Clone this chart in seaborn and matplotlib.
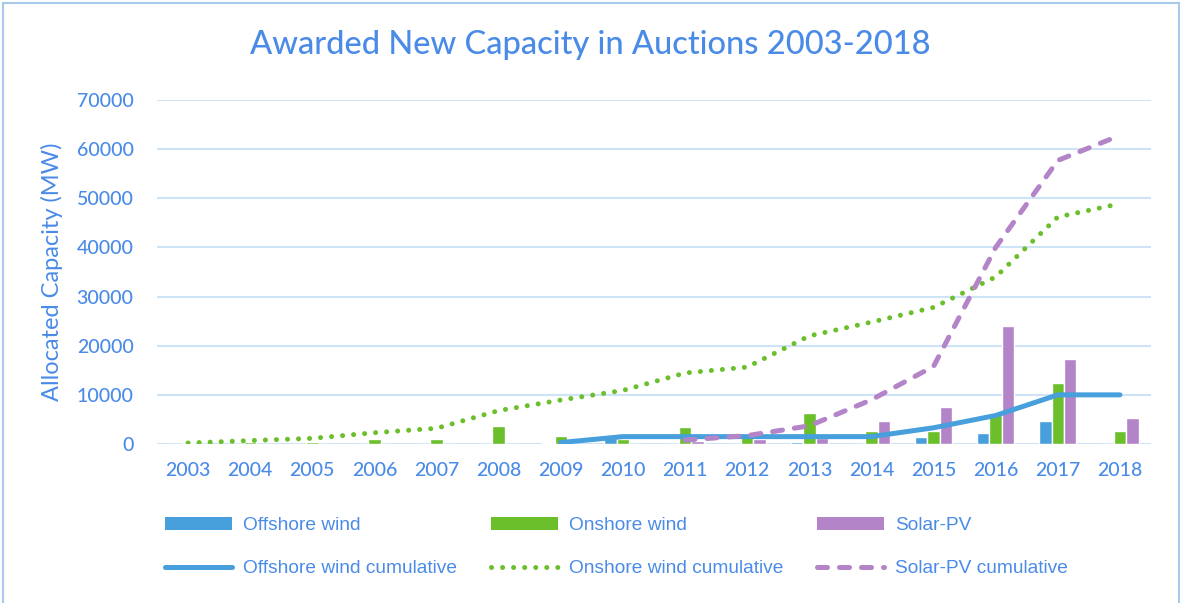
import numpy as np
import pandas as pd
import matplotlib
matplotlib.use("Agg")
import matplotlib.pyplot as plt
from matplotlib.patches import Patch, Rectangle
from matplotlib.lines import Line2D
import seaborn as sns

years = [str(y) for y in range(2003, 2019)]
offshore = [0, 0, 0, 0, 0, 0, 200, 1200, 0, 0, 400, 0, 1400, 2200, 4700, 0]
onshore = [200, 500, 350, 950, 950, 3700, 1600, 1000, 3500, 1400, 6250, 2700, 2600, 6100, 12350, 2700]
solar = [0, 0, 0, 0, 0, 0, 0, 0, 600, 1000, 1200, 4700, 7500, 24000, 17300, 5200]
offshore_cum = [np.nan] * 6 + [300, 1500, 1500, 1500, 1500, 1500, 3300, 5800, 10000, 10000]
onshore_cum = [200, 700, 1150, 2300, 3200, 6800, 8950, 10900, 14450, 15650, 22000, 24800, 27800, 34000, 46200, 48900]
solar_cum = [np.nan] * 8 + [800, 1700, 3700, 9000, 15800, 40000, 57700, 62800]

series_names = ["Offshore wind", "Onshore wind", "Solar-PV"]
cum_names = ["Offshore wind cumulative", "Onshore wind cumulative", "Solar-PV cumulative"]
y_ticks = list(range(0, 70001, 10000))

BLUE = "#47a0dc"
GREEN = "#6abf2b"
PURPLE = "#b384c8"
TEXT = "#4a8be8"
GRID = "#cfe3f6"

sns.set_theme(style="white")
plt.rcParams["font.family"] = ["Lato", "DejaVu Sans"]
plt.rcParams["font.weight"] = "medium"

df = pd.DataFrame({
    "year": years * 3,
    "type": [series_names[0]] * 16 + [series_names[1]] * 16 + [series_names[2]] * 16,
    "value": offshore + onshore + solar,
})

fig = plt.figure(figsize=(11.8, 6.03), dpi=100)
ax = fig.add_axes([157 / 1180, 1 - 444 / 603, (1151 - 157) / 1180, (444 - 100) / 603])

sns.barplot(data=df, x="year", y="value", hue="type", hue_order=series_names,
            palette=[BLUE, GREEN, PURPLE], width=0.6, saturation=1,
            errorbar=None, ax=ax, legend=False, zorder=2)

xpos = np.arange(len(years))
lw = 3.6
ax.plot(xpos, offshore_cum, color=BLUE, lw=lw, solid_capstyle="round", zorder=4)
ax.plot(xpos, onshore_cum, color=GREEN, lw=lw, linestyle=(0, (0.01, 2.2)),
        dash_capstyle="round", zorder=4)
ax.plot(xpos, solar_cum, color=PURPLE, lw=lw, linestyle=(0, (2.0, 2.4)),
        dash_capstyle="round", zorder=4)

ax.set_ylim(0, 70000)
ax.set_xlim(-0.5, 15.5)
ax.set_yticks(y_ticks)
ax.set_yticklabels([str(t) for t in y_ticks])
ax.set_xlabel("")
ax.set_ylabel("Allocated Capacity (MW)", fontsize=17, color=TEXT)
ax.yaxis.set_label_coords(-0.095, 0.5)
ax.tick_params(axis="both", length=0, labelsize=14, labelcolor=TEXT)
ax.tick_params(axis="y", pad=17)
ax.tick_params(axis="x", pad=13)
for s in ax.spines.values():
    s.set_visible(False)
ax.yaxis.grid(True, color=GRID, lw=1.5, zorder=0)
ax.xaxis.grid(False)
ax.set_axisbelow(True)

fig.text(0.5, 1 - 45 / 603, "Awarded New Capacity in Auctions 2003-2018",
         ha="center", va="center", fontsize=23.5, color=TEXT)

handles = [
    Patch(facecolor=BLUE, edgecolor="none"),
    Line2D([], [], color=BLUE, lw=lw, solid_capstyle="round"),
    Patch(facecolor=GREEN, edgecolor="none"),
    Line2D([], [], color=GREEN, lw=lw, linestyle=(0, (0.01, 2.2)), dash_capstyle="round"),
    Patch(facecolor=PURPLE, edgecolor="none"),
    Line2D([], [], color=PURPLE, lw=lw, linestyle=(0, (2.0, 2.4)), dash_capstyle="round"),
]
labels = [series_names[0], cum_names[0], series_names[1], cum_names[1], series_names[2], cum_names[2]]
leg = fig.legend(handles, labels, ncol=3, loc="center left",
                 bbox_to_anchor=(165 / 1180, 1 - 547 / 603), frameon=False,
                 borderpad=0, borderaxespad=0, handlelength=3.5, handleheight=0.7,
                 handletextpad=0.57, columnspacing=1.77, labelspacing=1.35,
                 prop={"family": ["Liberation Sans", "DejaVu Sans"], "size": 13.8,
                       "weight": "normal"})
for t in leg.get_texts():
    t.set_color(TEXT)

fig.patches.append(Rectangle((3 / 1180, -0.05), (1179 - 3) / 1180, 1.05 - 3 / 603,
                             transform=fig.transFigure, facecolor="none",
                             edgecolor="#a9c9ea", lw=1.5, clip_on=False))

fig.savefig("out.png", dpi=100, facecolor="white")
